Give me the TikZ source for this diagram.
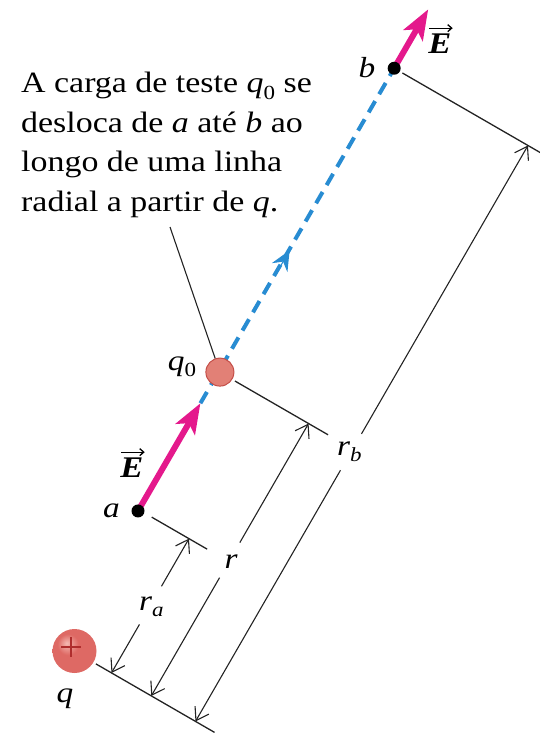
\documentclass[tikz,border=0pt]{standalone}
\usepackage{fontspec}
\setmainfont{Liberation Serif}[FakeStretch=1.15]
\usetikzlibrary{arrows.meta}
\definecolor{fieldmag}{RGB}{228,25,140}
\definecolor{pathblue}{RGB}{40,140,210}
\definecolor{qzero}{RGB}{226,128,118}
\definecolor{qzeroedge}{RGB}{196,78,72}
\definecolor{dimgray}{RGB}{35,35,35}
\definecolor{plusred}{RGB}{175,45,45}
\definecolor{cballA}{RGB}{245,185,178}
\definecolor{cballB}{RGB}{222,105,100}
\definecolor{cballC}{RGB}{190,58,58}
\pgfdeclareradialshading{chargeball}{\pgfpoint{-9bp}{9bp}}{color(0bp)=(cballA); color(12bp)=(cballB); color(40bp)=(cballB); color(55bp)=(cballC); color(70bp)=(cballC)}
\newcommand\lowsub[1]{\raisebox{-0.22em}{\fontsize{20}{20}\selectfont #1}}
\begin{document}
\begin{tikzpicture}[x=1pt,y=-1pt,
  ext/.style={line width=1.3pt, draw=dimgray},
  dimline/.style={line width=1.1pt, draw=dimgray, -{Straight Barb[length=12pt,width=16pt]}},
  lbl/.style={font=\fontsize{29}{34}\selectfont\itshape, inner sep=0pt, anchor=base},
  evec/.style={font=\fontsize{30}{36}\selectfont\bfseries\itshape, inner sep=0pt, anchor=base},
  vecarrow/.style={draw=black, line width=1.3pt, -{Straight Barb[length=4pt,width=7pt]}},
  dot/.style={circle, fill=black, minimum size=13pt, inner sep=0pt},
  fieldarrow/.style={draw=fieldmag, line width=6pt, -{Stealth[length=30pt,width=22pt,inset=7pt]}},
  pathline/.style={draw=pathblue, line width=4pt, dash pattern=on 13pt off 8pt}]
\useasboundingbox (0,0) rectangle (539,734);

% radial frame: (v,u), u along the radial line, v perpendicular
\begin{scope}[x={(0.866pt,-0.5pt)}, y={(0.5pt,0.866pt)}]
  \coordinate (A) at (375,-373.5);
  \coordinate (B) at (375.5,138);
  \coordinate (Q0) at (376.5,-212.3);
  \coordinate (Ea) at (375.2,-249);
  \coordinate (Eb) at (375.5,206);
  \coordinate (Mid) at (376,-72);
  \coordinate (MidS) at (376,-95);
  % extension lines
  \coordinate (bl1) at (415,-527);   \coordinate (bl2) at (552,-527);
  \coordinate (ea1) at (390,-372);   \coordinate (ea2) at (454,-372);
  \coordinate (eq1) at (394,-212.5); \coordinate (eq2) at (501.5,-212.5);
  \coordinate (eb1) at (385,138);    \coordinate (eb2) at (550,138);
  % dimension lines
  \coordinate (ra0) at (433,-527); \coordinate (ra1) at (433,-471);
  \coordinate (ra2) at (433,-427); \coordinate (ra3) at (433,-372);
  \coordinate (r0) at (479,-527);  \coordinate (r1) at (479,-390.5);
  \coordinate (r2) at (479,-350);  \coordinate (r3) at (479,-212.5);
  \coordinate (rb0) at (530,-527); \coordinate (rb1) at (530,-237);
  \coordinate (rb2) at (530,-195); \coordinate (rb3) at (530,138);
\end{scope}

% extension lines
\draw[ext] (bl1) -- (bl2);
\draw[ext] (ea1) -- (ea2);
\draw[ext] (eq1) -- (eq2);
\draw[ext] (eb1) -- (eb2);

% dimension lines
\draw[dimline] (ra1) -- (ra0);
\draw[dimline] (ra2) -- (ra3);
\draw[dimline] (r1) -- (r0);
\draw[dimline] (r2) -- (r3);
\draw[dimline] (rb1) -- (rb0);
\draw[dimline] (rb2) -- (rb3);

% radial path
\draw[pathline] (Ea) -- (B);
\draw[draw=pathblue, fill=pathblue, line width=1pt, -{Stealth[length=20pt,width=18pt,inset=7pt]}] (MidS) -- (Mid);

% field arrows
\draw[fieldarrow] (A) -- (Ea);
\draw[fieldarrow] (B) -- (Eb);

% leader line
\coordinate (lead) at (170,227);
\node[circle, fill=qzero, draw=qzeroedge, line width=1pt, minimum size=28pt, inner sep=0pt] (qz) at (Q0) {};
\draw[ext, line width=1.1pt] (lead) -- (qz);

% points
\node[dot] (a) at (A) {};
\node[dot] (b) at (B) {};

% source charge
\shade[shading=chargeball] (74.5,651) circle[radius=22pt];
\node[circle, minimum size=44pt, inner sep=0pt] (q) at (74.5,651) {};
\draw[plusred, line width=2pt] (61,647) -- (81,647) (71,637) -- (71,657);

% labels
\node[lbl] (la) at (111.5,517) {a};
\node[lbl] (lb) at (367,77) {b};
\node[lbl] (lq) at (65,702) {q};
\node[lbl] (lq0) at (182,370) {q\lowsub{\upshape 0}};
\node[lbl, anchor=base west] (lra) at (139,610) {r\lowsub{a}};
\node[lbl] (lr) at (231,568) {r};
\node[lbl, anchor=base west] (lrb) at (337,455) {r\lowsub{b}};
\node[evec] (E1) at (132,477) {E};
\node[evec] (E2) at (440,53) {E};
\draw[vecarrow] ([xshift=1pt,yshift=5pt]E1.north west) -- ([xshift=1pt,yshift=5pt]E1.north east);
\draw[vecarrow] ([xshift=1pt,yshift=5pt]E2.north west) -- ([xshift=1pt,yshift=5pt]E2.north east);

% caption
\node[anchor=north west, align=left, inner sep=0pt, font=\fontsize{29.5}{39.5}\selectfont] (caption) at (21,72)
  {A carga de teste \textit{q}\lowsub{0} se\\desloca de \textit{a} até \textit{b} ao\\longo de uma linha\\radial a partir de \textit{q}.};
\end{tikzpicture}
\end{document}
